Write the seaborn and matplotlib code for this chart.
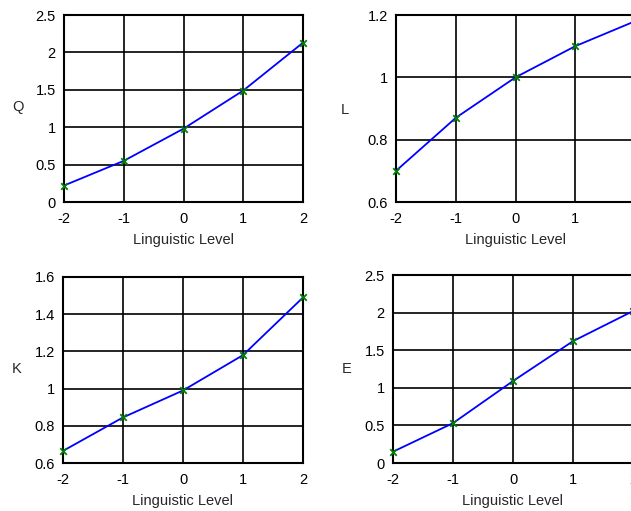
import matplotlib
matplotlib.use("Agg")
import matplotlib.pyplot as plt
import numpy as np
import pandas as pd
import seaborn as sns

levels = [-2, -1, 0, 1, 2]
q_values = [0.22, 0.55, 0.98, 1.49, 2.13]
l_values = [0.70, 0.87, 1.00, 1.10, 1.18]
k_values = [0.665, 0.845, 0.99, 1.18, 1.49]
e_values = [0.15, 0.53, 1.09, 1.62, 2.02]

x_ticks = [-2, -1, 0, 1, 2]
q_ticks = [0, 0.5, 1, 1.5, 2, 2.5]
l_ticks = [0.6, 0.8, 1, 1.2]
k_ticks = [0.6, 0.8, 1, 1.2, 1.4, 1.6]
e_ticks = [0, 0.5, 1, 1.5, 2, 2.5]

sns.set_style("white")
plt.rcParams["font.family"] = ["Liberation Sans", "DejaVu Sans"]
plt.rcParams["font.size"] = 10.5

W, H = 631, 511
fig = plt.figure(figsize=(W / 100, H / 100), dpi=100)

# name, values, y ticks, axes box in pixels (left, top, right, bottom), y-label position
panels = [
    ("Q", q_values, q_ticks, (64, 15, 303, 202), 18, 107),
    ("L", l_values, l_ticks, (396, 15, 635, 202), 345, 110),
    ("K", k_values, k_ticks, (63, 277, 303, 463), 17, 369),
    ("E", e_values, e_ticks, (393, 275, 633, 463), 347, 369),
]


def fmt(v):
    return f"{v:g}"


for name, values, yticks, box, lx, ly in panels:
    x0, y0, x1, y1 = box
    ax = fig.add_axes([x0 / W, (H - y1) / H, (x1 - x0) / W, (y1 - y0) / H])
    df = pd.DataFrame({"level": levels, "value": values})
    sns.lineplot(data=df, x="level", y="value", ax=ax, color="#0000ff", linewidth=1.3)
    sns.scatterplot(data=df, x="level", y="value", ax=ax, marker="x", color="#008000",
                    s=22, linewidth=1.3, zorder=5, clip_on=False)
    ax.set_xlim(-2, 2)
    ax.set_ylim(yticks[0], yticks[-1])
    ax.set_xticks(x_ticks)
    ax.set_xticklabels([fmt(t) for t in x_ticks])
    ax.set_yticks(yticks)
    ax.set_yticklabels([fmt(t) for t in yticks])
    ax.grid(True, color="black", linewidth=1.2)
    ax.set_axisbelow(True)
    for sp in ax.spines.values():
        sp.set_color("black")
        sp.set_linewidth(1.5)
    ax.tick_params(axis="y", length=0, pad=6, labelsize=10.5, colors="black")
    ax.tick_params(axis="x", length=0, pad=7, labelsize=10.5, colors="black")
    ax.set_xlabel("Linguistic Level", fontsize=10.5, labelpad=5)
    ax.set_ylabel("")
    fig.text(lx / W, 1 - ly / H, name, ha="center", va="center", fontsize=10.5)

fig.savefig("out.png", dpi=100)
